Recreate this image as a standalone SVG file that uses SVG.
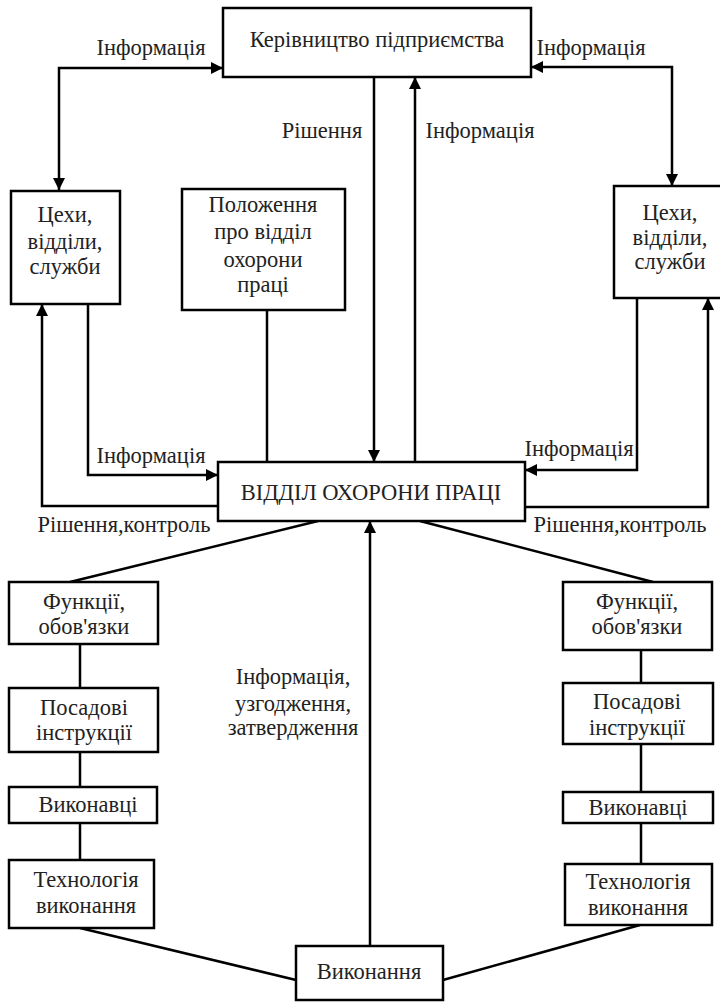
<svg xmlns="http://www.w3.org/2000/svg" width="720" height="1002" viewBox="0 0 720 1002">
<style>
.box{fill:#fff;stroke:#000;stroke-width:2.5}
.ln{fill:none;stroke:#000;stroke-width:2.5}
text{font-family:'Liberation Serif','DejaVu Serif',serif;font-size:22.5px;fill:#222}
.c{text-anchor:middle}
</style>
<defs>
<marker id="ah" markerUnits="userSpaceOnUse" markerWidth="12" markerHeight="12" viewBox="0 0 12 12" refX="12" refY="6" orient="auto-start-reverse">
<path d="M0,0 L12,6 L0,12 Z" fill="#000"/>
</marker>
</defs>
<rect width="720" height="1002" fill="#fff"/>
<g id="connectors">
<path class="ln" d="M59,190 L59,68 L223,68" marker-start="url(#ah)" marker-end="url(#ah)"/>
<path class="ln" d="M672,186 L672,67 L531,67" marker-start="url(#ah)" marker-end="url(#ah)"/>
<path class="ln" d="M374,77 L374,462" marker-end="url(#ah)"/>
<path class="ln" d="M415,462 L415,77" marker-end="url(#ah)"/>
<path class="ln" d="M267,310 L267,462"/>
<path class="ln" d="M88,304 L88,475 L218,475" marker-end="url(#ah)"/>
<path class="ln" d="M218,506 L42,506 L42,304" marker-end="url(#ah)"/>
<path class="ln" d="M637,298 L637,470 L525,470" marker-end="url(#ah)"/>
<path class="ln" d="M525,507 L708,507 L708,298" marker-end="url(#ah)"/>
<path class="ln" d="M318,521 L70,582"/>
<path class="ln" d="M420,521 L653,582"/>
<path class="ln" d="M80,644 L80,688 M80,752 L80,787 M80,823 L80,860"/>
<path class="ln" d="M80,928 L296,980"/>
<path class="ln" d="M641,650 L641,683 M641,744 L641,792 M641,823 L641,864"/>
<path class="ln" d="M443,980 L640,925"/>
<path class="ln" d="M370,946 L370,521" marker-end="url(#ah)"/>
</g>
<g id="labels" font-family="Liberation Serif, serif">
<text x="151" y="55" class="c">Інформація</text>
<text x="591" y="55" class="c">Інформація</text>
<text x="322" y="138" class="c">Рішення</text>
<text x="480" y="138" class="c">Інформація</text>
<text x="151" y="463" class="c">Інформація</text>
<text x="579" y="456" class="c">Інформація</text>
<text x="124" y="532" class="c">Рішення,контроль</text>
<text x="620" y="532" class="c">Рішення,контроль</text>
<text x="293" y="684" class="c">Інформація,</text>
<text x="293" y="711" class="c">узгодження,</text>
<text x="293" y="735" class="c">затвердження</text>
</g>
<g id="n-top"><rect class="box" x="223" y="8" width="308" height="69"/><text x="377" y="47" class="c">Керівництво підприємства</text></g>
<g id="n-tsekhy-left"><rect class="box" x="11" y="191" width="109" height="113"/>
<text x="65" y="222" class="c">Цехи,</text><text x="65" y="249" class="c">відділи,</text><text x="65" y="274" class="c">служби</text></g>
<g id="n-polozhennia"><rect class="box" x="182" y="189" width="163" height="121"/>
<text x="263" y="212" class="c">Положення</text><text x="263" y="239" class="c">про відділ</text><text x="263" y="267" class="c">охорони</text><text x="263" y="292" class="c">праці</text></g>
<g id="n-tsekhy-right"><rect class="box" x="614" y="186" width="110" height="112"/>
<text x="670" y="220" class="c">Цехи,</text><text x="670" y="245" class="c">відділи,</text><text x="670" y="269" class="c">служби</text></g>
<g id="n-viddil"><rect class="box" x="218" y="462" width="307" height="59"/><text x="371" y="500" class="c">ВІДДІЛ ОХОРОНИ ПРАЦІ</text></g>
<g id="n-funktsii-left"><rect class="box" x="9" y="582" width="149" height="62"/>
<text x="84" y="609" class="c">Функції,</text><text x="84" y="634" class="c">обов'язки</text></g>
<g id="n-posadovi-left"><rect class="box" x="9" y="688" width="149" height="64"/>
<text x="84" y="715" class="c">Посадові</text><text x="84" y="740" class="c">інструкції</text></g>
<g id="n-vykonavtsi-left"><rect class="box" x="9" y="787" width="148" height="36"/>
<text x="88" y="812" class="c">Виконавці</text></g>
<g id="n-tekhnolohiia-left"><rect class="box" x="9" y="860" width="145" height="68"/>
<text x="86" y="887" class="c">Технологія</text><text x="86" y="913" class="c">виконання</text></g>
<g id="n-funktsii-right"><rect class="box" x="563" y="582" width="149" height="68"/>
<text x="637" y="609" class="c">Функції,</text><text x="637" y="634" class="c">обов'язки</text></g>
<g id="n-posadovi-right"><rect class="box" x="563" y="683" width="150" height="61"/>
<text x="637" y="709" class="c">Посадові</text><text x="637" y="735" class="c">інструкції</text></g>
<g id="n-vykonavtsi-right"><rect class="box" x="563" y="792" width="150" height="31"/>
<text x="638" y="815" class="c">Виконавці</text></g>
<g id="n-tekhnolohiia-right"><rect class="box" x="565" y="864" width="147" height="61"/>
<text x="638" y="889" class="c">Технологія</text><text x="638" y="915" class="c">виконання</text></g>
<g id="n-vykonannia"><rect class="box" x="296" y="946" width="147" height="54"/>
<text x="369" y="979" class="c">Виконання</text></g>
</svg>
